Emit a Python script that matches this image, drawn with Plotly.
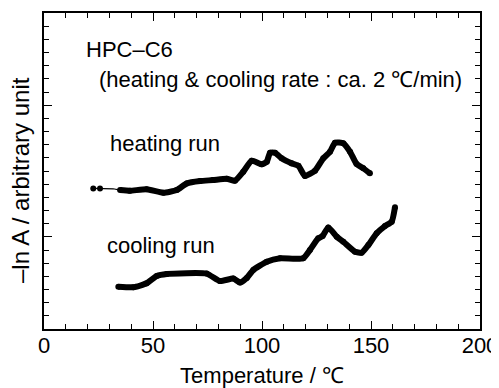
import plotly.graph_objects as go

heating_T = [22.6, 25.7, 31.7, 34.9, 39.4, 47.1, 54.7, 60.9, 65.5, 71.6, 77.5, 83.8, 87.6,
             91.4, 95.3, 99.9, 102.2, 103.7, 106.0, 109.0, 113.6, 116.7, 119.7, 124.3,
             128.1, 131.2, 133.5, 137.3, 140.4, 143.4, 146.5, 149.5]
heating_Y = [10.68, 10.68, 10.65, 10.55, 10.50, 10.61, 10.35, 10.55, 11.06, 11.24, 11.31, 11.41, 11.26,
             11.94, 12.78, 12.51, 12.70, 13.39, 13.39, 12.96, 12.58, 12.40, 11.62, 12.02,
             12.96, 13.46, 14.15, 14.10, 13.46, 12.53, 12.20, 11.82]

cooling_T = [34.1, 41.0, 47.1, 51.7, 56.3, 74.6, 80.7, 86.8, 89.9, 93.0, 96.0, 102.2, 108.3,
             118.9, 122.0, 125.8, 127.8, 130.4, 134.3, 137.3, 142.7, 145.7, 148.8, 152.6,
             156.4, 159.5, 161.0]
cooling_Y = [3.21, 3.17, 3.47, 4.02, 4.18, 4.21, 3.64, 3.83, 3.53, 3.87, 4.48, 5.11, 5.37,
             5.37, 6.00, 6.89, 7.06, 7.71, 7.01, 6.63, 5.87, 5.79, 6.38, 7.27,
             7.82, 8.15, 9.24]

x_ticks = [0, 50, 100, 150, 200]
y_major = [7, 17]

FONT = "Liberation Sans, Arial, sans-serif"

fig = go.Figure()
# sparse start of heating run (thin connector with isolated dots)
fig.add_trace(go.Scatter(x=heating_T[:4], y=heating_Y[:4], mode="lines",
                         line=dict(color="black", width=1.2), showlegend=False))
fig.add_trace(go.Scatter(x=heating_T[:2], y=heating_Y[:2], mode="markers",
                         marker=dict(color="black", size=6), showlegend=False))
fig.add_trace(go.Scatter(x=heating_T[3:], y=heating_Y[3:], mode="lines+markers",
                         line=dict(color="black", width=6, shape="spline", smoothing=0.5),
                         marker=dict(color="black", size=6), showlegend=False))
fig.add_trace(go.Scatter(x=cooling_T, y=cooling_Y, mode="lines+markers",
                         line=dict(color="black", width=6, shape="spline", smoothing=0.5),
                         marker=dict(color="black", size=6), showlegend=False))

ann = [
    dict(x=18.2, y=21.2, text="HPC–C6", size=22),
    dict(x=24.3, y=18.95, text="(heating & cooling rate : ca. 2 ℃/min)", size=22),
    dict(x=29.4, y=14.1, text="heating run", size=22),
    dict(x=28.0, y=6.38, text="cooling run", size=22),
]
for a in ann:
    fig.add_annotation(x=a["x"], y=a["y"], text=a["text"], showarrow=False,
                       xanchor="left", yanchor="middle", xref="x", yref="y",
                       font=dict(family=FONT, size=a["size"], color="black"))

# y-axis title (placed as a rotated label, slightly below the axis centre as in the original)
fig.add_annotation(x=-23 / 436, y=(329 - 180) / 316, xref="paper", yref="paper",
                   text="–ln A / arbitrary unit", textangle=-90, showarrow=False,
                   xanchor="center", yanchor="middle",
                   font=dict(family=FONT, size=24, color="black"))

fig.update_xaxes(range=[0, 200], tickvals=x_ticks, ticktext=[str(v) for v in x_ticks],
                 ticks="inside", ticklen=8, tickwidth=1.2, tickcolor="black",
                 minor=dict(dtick=10, ticks="inside", ticklen=5, tickwidth=1.2, tickcolor="black"),
                 showline=True, linecolor="black", linewidth=1.5, mirror="ticks",
                 showgrid=False, zeroline=False, automargin=False,
                 ticklabeloverflow="allow", ticklabelstandoff=-4,
                 tickfont=dict(family=FONT, size=22, color="black"),
                 title=dict(text="Temperature / ℃", font=dict(family=FONT, size=22, color="black"),
                            standoff=10))
fig.update_yaxes(range=[0, 24], tickvals=y_major, showticklabels=False,
                 ticks="inside", ticklen=8, tickwidth=1.2, tickcolor="black",
                 minor=dict(dtick=1, tick0=0, ticks="inside", ticklen=5, tickwidth=1.2, tickcolor="black"),
                 showline=True, linecolor="black", linewidth=1.5, mirror="ticks",
                 showgrid=False, zeroline=False, automargin=False)

# page body has an 8px default margin, so the figure is sized to fit the 499x388 window
fig.update_layout(width=491, height=380, margin=dict(l=36, r=19, t=5, b=59),
                  plot_bgcolor="white", paper_bgcolor="white", showlegend=False)

fig.write_html("out.html")
